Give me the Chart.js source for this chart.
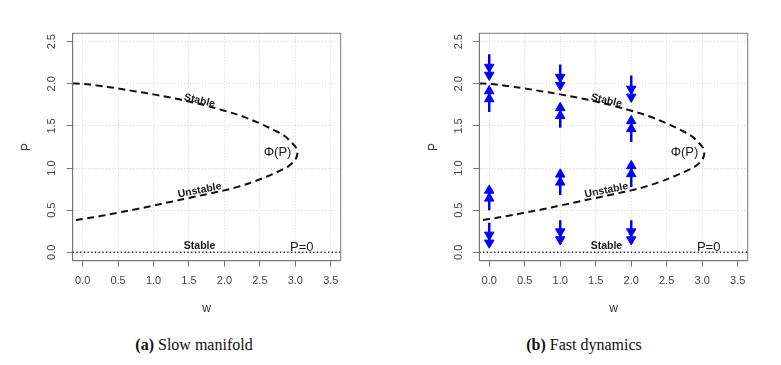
<!DOCTYPE html>
<html>
<head>
<meta charset="utf-8">
<script src="https://cdn.jsdelivr.net/npm/chart.js@4/dist/chart.umd.min.js"></script>
<style>
body { margin:0; background:#fff; width:781px; height:365px; position:relative; overflow:hidden; }
.panel { position:absolute; top:0; }
.cap { position:absolute; top:337px; font-family:"Liberation Serif", serif; font-size:16px; line-height:16px; color:#111; white-space:nowrap; transform:translateX(-50%); }
</style>
</head>
<body>
<div class="panel" style="left:0;width:390px;height:325px"><canvas id="slowChart" width="390" height="325"></canvas></div>
<div class="panel" style="left:390px;width:391px;height:325px"><canvas id="fastChart" width="391" height="325"></canvas></div>
<div class="cap" style="left:194px"><b>(a)</b> Slow manifold</div>
<div class="cap" style="left:584px"><b>(b)</b> Fast dynamics</div>
<script>
// slow manifold w = Phi(P), upper (stable) branch first
var manifoldW = [-0.14, 0, 0.25, 0.5, 0.75, 1.0, 1.25, 1.5, 1.75, 2.0, 2.25, 2.5, 2.7, 2.85, 2.95, 3.01, 3.03, 3.0, 2.9, 2.8, 2.6, 2.4, 2.2, 2.0, 1.75, 1.5, 1.25, 1.0, 0.75, 0.5, 0.25, 0, -0.14];
var manifoldP = [2.005, 2.0, 1.975, 1.945, 1.91, 1.875, 1.835, 1.79, 1.74, 1.68, 1.615, 1.53, 1.45, 1.38, 1.3, 1.24, 1.18, 1.1, 1.02, 0.975, 0.9, 0.835, 0.78, 0.735, 0.69, 0.645, 0.6, 0.555, 0.51, 0.47, 0.43, 0.395, 0.375];

// trivial equilibrium P = 0
var zeroW = [-0.14, 3.64];
var zeroP = [0, 0];

var xTicks = [0, 0.5, 1, 1.5, 2, 2.5, 3, 3.5];
var yTicks = [0, 0.5, 1, 1.5, 2, 2.5];

// fast dynamics arrows (w, start P, end P)
var arrowW    = [0, 0, 0, 0, 1, 1, 1, 1, 2, 2, 2, 2];
var arrowFrom = [2.35, 1.665, 0.50, 0.35, 2.23, 1.48, 0.68, 0.38, 2.10, 1.31, 0.775, 0.38];
var arrowTo   = [2.04, 1.98, 0.80, 0.047, 1.92, 1.78, 0.99, 0.086, 1.78, 1.625, 1.09, 0.086];

// text annotations
var labelText = ["Stable", "Unstable", "Stable", "Φ(P)", "P=0"];
var labelW = [1.65, 1.65, 1.65, 2.75, 3.09];
var labelP = [1.80, 0.735, 0.07, 1.18, 0.055];
var labelAngle = [13, -11, 0, 0, 0];
var labelFont = ["bold 10.5px 'Liberation Sans'", "bold 10.5px 'Liberation Sans'", "bold 10.5px 'Liberation Sans'", "13px 'Liberation Sans'", "13px 'Liberation Sans'"];

var pxPerP = 84.6;
var headR = 5.5;
var headGap = 8;

function pts(xs, ys) {
  return xs.map(function (x, i) { return { x: x, y: ys[i] }; });
}

var boxAndLabels = {
  id: 'boxAndLabels',
  afterDatasetsDraw: function (chart) {
    var ctx = chart.ctx, a = chart.chartArea;
    var sx = chart.scales.x, sy = chart.scales.y;
    ctx.save();
    ctx.fillStyle = '#1a1a1a';
    ctx.textAlign = 'center';
    ctx.textBaseline = 'middle';
    for (var i = 0; i < labelText.length; i++) {
      ctx.save();
      ctx.translate(sx.getPixelForValue(labelW[i]), sy.getPixelForValue(labelP[i]));
      ctx.rotate(labelAngle[i] * Math.PI / 180);
      ctx.font = labelFont[i];
      ctx.fillText(labelText[i], 0, 0);
      ctx.restore();
    }
    ctx.strokeStyle = '#777';
    ctx.lineWidth = 1;
    ctx.strokeRect(a.left, a.top, a.right - a.left, a.bottom - a.top);
    ctx.restore();
  }
};

function baseDatasets() {
  return [
    {
      data: pts(manifoldW, manifoldP),
      showLine: true, borderColor: '#111', borderWidth: 2, borderDash: [7, 4.5],
      pointRadius: 0, tension: 0.35, fill: false
    },
    {
      data: pts(zeroW, zeroP),
      showLine: true, borderColor: '#222', borderWidth: 1.5, borderDash: [1.3, 2.4],
      pointRadius: 0, fill: false
    }
  ];
}

function arrowDatasets() {
  var shafts = [], heads = [];
  var r = headR / pxPerP, g = headGap / pxPerP;
  for (var i = 0; i < arrowW.length; i++) {
    var dir = arrowTo[i] > arrowFrom[i] ? 1 : -1;
    shafts.push({ x: arrowW[i], y: arrowFrom[i] });
    shafts.push({ x: arrowW[i], y: arrowTo[i] - dir * r });
    shafts.push({ x: arrowW[i], y: null });
    heads.push({ x: arrowW[i], y: arrowTo[i] - dir * r, rot: dir > 0 ? 0 : 180 });
    heads.push({ x: arrowW[i], y: arrowTo[i] - dir * (r + g), rot: dir > 0 ? 0 : 180 });
  }
  return [
    {
      data: shafts, showLine: true, spanGaps: false, borderColor: '#0000ff', borderWidth: 2.5,
      pointRadius: 0, fill: false
    },
    {
      data: heads, showLine: false, pointStyle: 'triangle', pointRadius: headR,
      pointRotation: function (c) { return c.raw ? c.raw.rot : 0; },
      backgroundColor: '#0000ff', borderColor: '#0000ff', borderWidth: 1
    }
  ];
}

function makeOptions(yAxisWidth, titlePad, rightPad) {
  var tickFont = { family: 'Liberation Sans', size: 11 };
  return {
    responsive: false,
    animation: false,
    events: [],
    layout: { padding: { left: 0, right: rightPad, top: 33.3, bottom: 0 } },
    plugins: { legend: { display: false }, tooltip: { enabled: false } },
    scales: {
      x: {
        type: 'linear', min: -0.14, max: 3.64,
        afterBuildTicks: function (s) { s.ticks = xTicks.map(function (v) { return { value: v }; }); },
        afterFit: function (s) { s.height = 64.3; },
        ticks: { autoSkip: false, maxRotation: 0, padding: 8, color: '#444', font: tickFont,
          callback: function (v) { return v.toFixed(1); } },
        grid: { color: '#d6d6d6', lineWidth: 1, tickLength: 6, tickColor: '#777', tickWidth: 1 },
        border: { color: '#777', dash: [1, 2] },
        title: { display: true, text: 'w', color: '#333', font: { family: 'Liberation Sans', size: 12 },
          padding: { top: 0, bottom: 9 } }
      },
      y: {
        type: 'linear', min: -0.1, max: 2.6,
        afterBuildTicks: function (s) { s.ticks = yTicks.map(function (v) { return { value: v }; }); },
        afterFit: function (s) { s.width = yAxisWidth; },
        ticks: { autoSkip: false, minRotation: 90, maxRotation: 90, crossAlign: 'center', padding: 7,
          color: '#444', font: tickFont, callback: function (v) { return v.toFixed(1); } },
        grid: { color: '#d6d6d6', lineWidth: 1, tickLength: 6, tickColor: '#777', tickWidth: 1 },
        border: { color: '#777', dash: [1, 2] },
        title: { display: true, text: 'P', color: '#4a3530', font: { family: 'Liberation Sans', size: 12 },
          padding: { top: titlePad, bottom: 0 } }
      }
    }
  };
}

new Chart(document.getElementById('slowChart'), {
  type: 'scatter',
  data: { datasets: baseDatasets() },
  options: makeOptions(72.7, 19.5, 49.3),
  plugins: [boxAndLabels]
});

new Chart(document.getElementById('fastChart'), {
  type: 'scatter',
  data: { datasets: baseDatasets().concat(arrowDatasets()) },
  options: makeOptions(89.3, 36.1, 33.3),
  plugins: [boxAndLabels]
});
</script>
</body>
</html>
